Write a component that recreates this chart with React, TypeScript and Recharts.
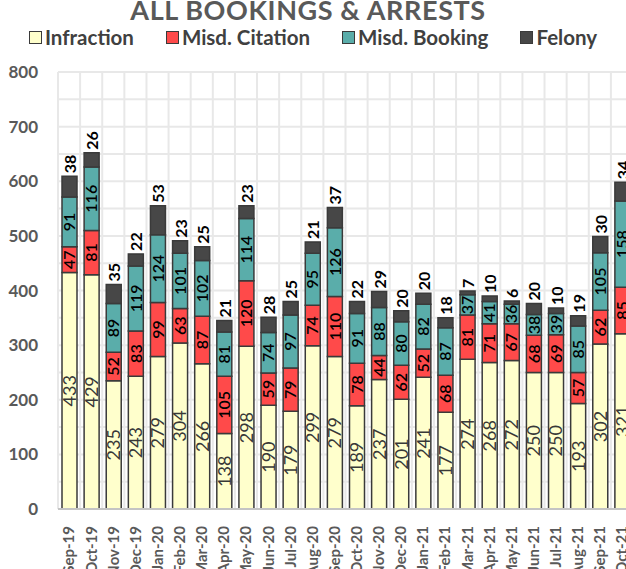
import React from 'react';
import { BarChart, Bar, XAxis, YAxis, CartesianGrid, LabelList, ReferenceLine } from 'recharts';

const months = [
  'Sep-19', 'Oct-19', 'Nov-19', 'Dec-19', 'Jan-20', 'Feb-20', 'Mar-20', 'Apr-20', 'May-20',
  'Jun-20', 'Jul-20', 'Aug-20', 'Sep-20', 'Oct-20', 'Nov-20', 'Dec-20', 'Jan-21', 'Feb-21',
  'Mar-21', 'Apr-21', 'May-21', 'Jun-21', 'Jul-21', 'Aug-21', 'Sep-21', 'Oct-21',
];
const infraction = [433, 429, 235, 243, 279, 304, 266, 138, 298, 190, 179, 299, 279, 189, 237, 201, 241, 177, 274, 268, 272, 250, 250, 193, 302, 321];
const misdCitation = [47, 81, 52, 83, 99, 63, 87, 105, 120, 59, 79, 74, 110, 78, 44, 62, 52, 68, 81, 71, 67, 68, 69, 57, 62, 85];
const misdBooking = [91, 116, 89, 119, 124, 101, 102, 81, 114, 74, 97, 95, 126, 91, 88, 80, 82, 87, 37, 41, 36, 38, 39, 85, 105, 158];
const felony = [38, 26, 35, 22, 53, 23, 25, 21, 23, 28, 25, 21, 37, 22, 29, 20, 20, 18, 7, 10, 6, 20, 10, 19, 30, 34];
const yTicks = [0, 50, 100, 150, 200, 250, 300, 350, 400, 450, 500, 550, 600, 650, 700, 750, 800];

const FONT = 'Lato, "Open Sans", sans-serif';
const GREY = '#595959';
const EDGE = '#3a3a3a';

const series = [
  { key: 'infraction', name: 'Infraction', color: '#FFFFCC', text: '#383838' },
  { key: 'misdCitation', name: 'Misd. Citation', color: '#FF4A4A', text: '#000' },
  { key: 'misdBooking', name: 'Misd. Booking', color: '#5AADAA', text: '#000' },
  { key: 'felony', name: 'Felony', color: '#474747', text: '#000' },
];

const data = months.map((m, i) => ({
  month: m,
  infraction: infraction[i],
  misdCitation: misdCitation[i],
  misdBooking: misdBooking[i],
  felony: felony[i],
}));

const MonthTick = (props: any) => {
  const { x, y, payload } = props;
  return (
    <g transform={`translate(${x},${y + 9}) rotate(-90)`}>
      <text x={0} y={0} dy="0.36em" textAnchor="end" fill={GREY} fontSize={15} fontWeight={700} fontFamily={FONT}>
        {payload.value}
      </text>
    </g>
  );
};

const FelonyLabel = (props: any) => {
  const { x, y, width, value } = props;
  const cx = x + width / 2;
  const ty = y - 3;
  return (
    <text
      x={cx}
      y={ty}
      transform={`rotate(-90 ${cx} ${ty})`}
      textAnchor="start"
      dominantBaseline="central"
      fill="#000"
      fontSize={16}
      fontWeight={700}
      fontFamily={FONT}
    >
      {value}
    </text>
  );
};

export default function App() {
  return (
    <div style={{ position: 'absolute', left: 0, top: 0, width: 626, height: 569, overflow: 'hidden', background: '#fff', fontFamily: FONT }}>
      <div
        style={{
          position: 'absolute', left: 0, width: 616, top: -6, textAlign: 'center',
          fontSize: 27, fontWeight: 700, color: GREY, lineHeight: '32px', whiteSpace: 'nowrap', letterSpacing: 0.6,
        }}
      >
        ALL BOOKINGS &amp; ARRESTS
      </div>
      <div
        style={{
          position: 'absolute', left: 0, width: 626, top: 25, display: 'flex', justifyContent: 'center',
          gap: 32, fontSize: 20.5, fontWeight: 700, color: '#404040', lineHeight: '24px',
        }}
      >
        {series.map((s) => (
          <div key={s.key} style={{ display: 'flex', alignItems: 'center' }}>
            <span style={{ display: 'inline-block', width: 11, height: 11, background: s.color, border: `1.5px solid ${EDGE}`, marginRight: 3 }} />
            {s.name}
          </div>
        ))}
      </div>
      <div style={{ position: 'absolute', left: 0, top: 0 }}>
        <BarChart width={650} height={569} data={data} margin={{ top: 72, right: 17, bottom: 0, left: 8 }}>
          <CartesianGrid
            stroke="#e8e8e8"
            strokeWidth={2}
            verticalCoordinatesGenerator={({ offset }: any) =>
              Array.from({ length: months.length + 1 }, (_, i) => offset.left + (i * offset.width) / months.length)
            }
          />
          <XAxis
            dataKey="month"
            interval={0}
            axisLine={false}
            tickLine={false}
            height={60}
            tick={<MonthTick />}
          />
          <YAxis
            domain={[0, 800]}
            ticks={yTicks}
            interval={0}
            width={50}
            axisLine={false}
            tickLine={false}
            tickMargin={14}
            tickFormatter={(v: number) => (v % 100 === 0 ? String(v) : '')}
            tick={{ fill: GREY, fontSize: 17, fontWeight: 700, fontFamily: FONT }}
          />
          <ReferenceLine y={0} stroke="#c4c4c4" strokeWidth={2} />
          {series.map((s) => (
            <Bar
              key={s.key}
              dataKey={s.key}
              name={s.name}
              stackId="all"
              fill={s.color}
              stroke={EDGE}
              strokeWidth={1.5}
              barSize={15}
              isAnimationActive={false}
            >
              {s.key === 'felony' ? (
                <LabelList dataKey={s.key} content={<FelonyLabel />} />
              ) : (
                <LabelList
                  dataKey={s.key}
                  position="center"
                  angle={-90}
                  fill={s.text}
                  fontSize={s.key === 'infraction' ? 18 : 16}
                  fontFamily={FONT}
                  fontWeight={s.key === 'infraction' ? 400 : 600}
                />
              )}
            </Bar>
          ))}
        </BarChart>
      </div>
    </div>
  );
}
